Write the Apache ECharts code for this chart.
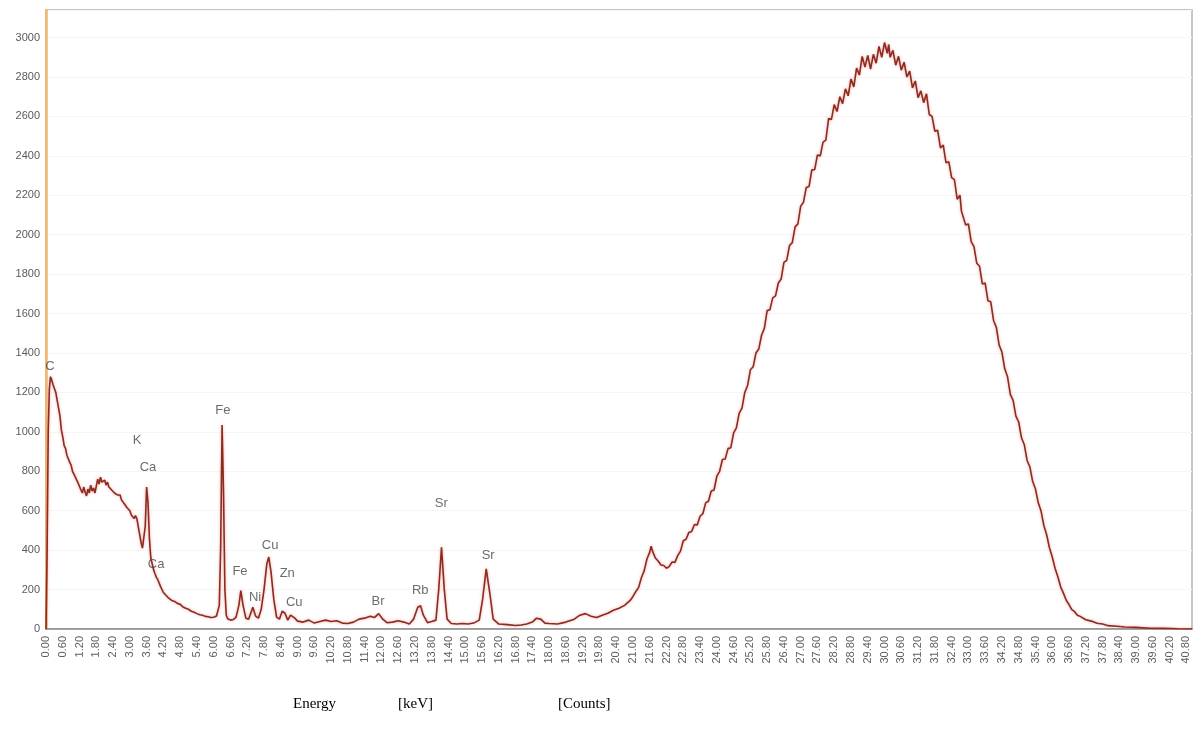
<!DOCTYPE html>
<html>
<head>
<meta charset="utf-8">
<script src="https://cdn.jsdelivr.net/npm/echarts@6/dist/echarts.min.js"></script>
<style>
html,body{margin:0;padding:0;background:#fff;}
#chart{width:1200px;height:747px;}
</style>
</head>
<body>
<div id="chart"></div>
<script>
// Energy [keV] / Counts pairs
const lowRegion = [
[0,0],[0.04,400],[0.08,1000],[0.12,1220],[0.16,1280],[0.2,1265],[0.25,1240],[0.3,1250],[0.35,1200],[0.4,1160],
[0.45,1120],[0.5,1080],[0.55,1010],[0.6,975],[0.65,930],[0.7,915],[0.75,880],[0.8,890],[0.85,845],[0.9,830],
[0.95,800],[1.0,805],[1.05,770],[1.1,760],[1.15,740],[1.2,745],[1.25,705],[1.3,690],[1.35,720],[1.4,695],
[1.45,675],[1.5,710],[1.55,690],[1.6,730],[1.65,700],[1.7,715],[1.75,690],[1.8,725],[1.85,760],[1.9,735],
[1.95,770],[2.0,745],[2.05,740],[2.1,755],[2.15,730],[2.2,745],[2.25,720],[2.3,730],[2.35,705],[2.4,715],
[2.45,690],[2.5,700],[2.55,680],[2.6,670],[2.65,680],[2.7,655],[2.75,650],[2.8,635],[2.85,640],[2.9,615],
[2.95,610],[3.0,600],[3.05,580],[3.1,585],[3.15,560],[3.2,575],[3.25,560],[3.3,520],[3.35,480],[3.4,440],
[3.45,410],[3.5,420],[3.55,520],[3.6,720],[3.65,640],[3.7,460],[3.75,360],[3.8,330],[3.85,300],[3.9,280],
[3.95,262],[4.0,250],[4.1,215],[4.2,185],[4.3,170],[4.4,155],[4.5,145],[4.6,140],[4.7,130],[4.8,125],
[4.9,112],[5.0,105],[5.1,100],[5.2,90],[5.3,85],[5.4,78],[5.5,72],[5.6,70],[5.7,64],[5.8,62],[5.9,58],[6.0,60]
];
const midRegion = [
[6.1,66],[6.2,120],[6.25,420],[6.3,1035],[6.35,700],[6.4,200],[6.45,70],[6.5,52],[6.6,45],[6.7,48],
[6.8,60],[6.9,120],[6.97,195],[7.05,120],[7.15,55],[7.25,50],[7.3,70],[7.4,110],[7.5,65],[7.6,55],
[7.7,100],[7.8,200],[7.9,330],[7.97,365],[8.05,290],[8.15,150],[8.25,60],[8.35,50],[8.45,90],[8.55,80],
[8.65,45],[8.75,70],[8.8,78],[8.9,55],[9.0,40],[9.2,35],[9.4,45],[9.6,30],[9.8,38],[10.0,45],
[10.2,38],[10.4,42],[10.6,30],[10.8,28],[11.0,35],[11.2,50],[11.4,55],[11.6,65],[11.75,58],[11.9,78],
[12.05,50],[12.2,32],[12.4,35],[12.6,42],[12.8,35],[13.0,25],[13.15,50],[13.3,110],[13.4,118],[13.5,70],
[13.65,32],[13.8,38],[13.95,45],[14.05,200],[14.15,415],[14.25,200],[14.35,50],[14.5,28],[14.7,25],[14.9,28],
[15.1,25],[15.3,30],[15.5,45],[15.62,150],[15.75,305],[15.88,180],[16.0,50],[16.2,25],[16.5,22],[16.8,18],
[17.0,20],[17.2,25],[17.4,35],[17.55,55],[17.7,50],[17.85,30],[18.0,28],[18.3,25],[18.6,35],[18.9,50],
[19.1,70],[19.3,78],[19.5,65],[19.7,58],[19.9,70],[20.1,80],[20.3,95],[20.5,105],[20.7,120],[20.9,145]
];
const humpRegion = [
[21.0,165],[21.1,190],[21.2,210],[21.3,260],[21.4,295],[21.5,355],[21.6,390],[21.65,420],[21.7,395],[21.8,360],
[21.9,345],[22.0,325],[22.1,322],[22.2,308],[22.3,318],[22.4,340],[22.5,338],[22.6,372],[22.7,395],[22.8,448],
[22.9,455],[23.0,490],[23.1,495],[23.2,530],[23.3,528],[23.4,572],[23.5,585],[23.6,640],[23.7,648],[23.8,700],
[23.9,705],[24.0,775],[24.1,800],[24.2,860],[24.3,862],[24.4,915],[24.5,920],[24.6,995],[24.7,1020],[24.8,1095],
[24.9,1120],[25.0,1200],[25.1,1235],[25.2,1315],[25.3,1330],[25.4,1400],[25.5,1420],[25.6,1490],[25.7,1525],[25.8,1615],
[25.9,1620],[26.0,1680],[26.1,1690],[26.2,1755],[26.3,1775],[26.4,1860],[26.5,1870],[26.6,1945],[26.7,1960],[26.8,2040],
[26.9,2055],[27.0,2145],[27.1,2165],[27.2,2240],[27.3,2245],[27.4,2330],[27.5,2330],[27.6,2405],[27.7,2400],[27.8,2470],
[27.9,2480],[28.0,2590],[28.1,2585],[28.2,2660],[28.3,2625],[28.4,2700],[28.5,2665],[28.6,2740],[28.7,2705],[28.8,2790],
[28.9,2750],[29.0,2845],[29.1,2810],[29.2,2905],[29.3,2850],[29.4,2910],[29.5,2840],[29.6,2915],[29.7,2870],[29.8,2955],
[29.9,2900],[30.0,2975],[30.1,2920],[30.15,2965],[30.2,2900],[30.3,2935],[30.4,2860],[30.5,2905],[30.6,2835],[30.7,2875],
[30.8,2800],[30.9,2830],[31.0,2745],[31.1,2780],[31.2,2695],[31.3,2730],[31.4,2670],[31.5,2715],[31.6,2610],[31.7,2600],
[31.8,2525],[31.9,2530],[32.0,2440],[32.1,2455],[32.2,2365],[32.3,2370],[32.4,2290],[32.5,2280],[32.6,2180],[32.7,2200],
[32.75,2120],[32.8,2130],[32.9,2050],[33.0,2055],[33.1,1965],[33.2,1940],[33.3,1855],[33.4,1840],[33.5,1750],[33.6,1755],
[33.7,1665],[33.8,1660],[33.9,1565],[34.0,1530],[34.1,1440],[34.2,1405],[34.3,1320],[34.4,1280],[34.5,1190],[34.6,1160],
[34.7,1080],[34.8,1050],[34.9,970],[35.0,935],[35.1,855],[35.2,822],[35.3,748],[35.4,710],[35.5,640],[35.6,598],
[35.7,525],[35.8,478],[35.9,412],[36.0,365],[36.1,308],[36.2,265],[36.3,214],[36.4,182],[36.5,146],[36.6,124],
[36.7,98],[36.8,88],[36.9,70],[37.0,64],[37.2,47],[37.4,40],[37.6,29],[37.8,25],[38.0,17],[38.3,14],
[38.6,10],[39.0,8],[39.5,4],[40.0,3],[40.5,1],[41.0,0]
];
// peak labels: element name, energy, count position of the label
const peakNames  = ['C','K','Ca','Ca','Fe','Fe','Ni','Cu','Zn','Cu','Br','Rb','Sr','Sr'];
const peakEnergy = [0.14,3.26,3.65,3.94,6.33,6.94,7.48,8.02,8.63,8.88,11.88,13.39,14.14,15.82];
const peakLabelY = [1332,956,819,330,1108,290,158,422,280,137,142,198,636,371];

const xMin = 0, xMax = 41, xStep = 0.6;
const yMin = 0, yMax = 3140, yStep = 200;

const spectrum = lowRegion.concat(midRegion, humpRegion);
const labelData = peakNames.map((n, i) => ({ name: n, value: [peakEnergy[i], peakLabelY[i]] }));

const chart = echarts.init(document.getElementById('chart'), null, { renderer: 'canvas' });
const narrow = "'Liberation Sans Narrow', 'Liberation Sans', Arial, sans-serif";
chart.setOption({
  animation: false,
  backgroundColor: '#ffffff',
  grid: { left: 46, right: 8, top: 10, bottom: 118, show: true, borderColor: '#b4b4b4', borderWidth: 1.5, backgroundColor: '#ffffff' },
  xAxis: {
    type: 'value', min: xMin, max: xMax, interval: xStep,
    axisLine: { show: true, onZero: false, lineStyle: { color: '#8a8a8a', width: 1.5 } },
    axisTick: { show: false },
    splitLine: { show: false },
    axisLabel: {
      rotate: 90, margin: 7, color: '#5e5e5e', fontSize: 11, fontFamily: narrow,
      showMaxLabel: false,
      formatter: v => v.toFixed(2)
    }
  },
  yAxis: {
    type: 'value', min: yMin, max: yMax, interval: yStep,
    axisLine: { show: true, lineStyle: { color: '#f2b66a', width: 2.5 } },
    axisTick: { show: false },
    splitLine: { show: true, lineStyle: { color: '#f5f5f5', width: 1 } },
    axisLabel: { margin: 6, color: '#5a5a5a', fontSize: 11, fontFamily: narrow, showMaxLabel: false,
      formatter: v => String(v) }
  },
  series: [
    {
      type: 'line', data: spectrum, showSymbol: false, symbol: 'none', smooth: false,
      lineStyle: { color: '#8e2a20', width: 1.6, shadowColor: 'rgba(225,110,100,0.6)', shadowBlur: 3 },
      z: 3
    },
    {
      type: 'scatter', data: labelData, symbolSize: 0, silent: true, z: 4,
      label: {
        show: true, position: 'inside', formatter: p => p.name,
        color: '#474747', fontSize: 13, fontFamily: narrow
      }
    }
  ],
  graphic: [
    { type: 'text', left: 293, top: 697, style: { text: 'Energy', font: "15px 'Liberation Serif', 'Times New Roman', serif", fill: '#000' } },
    { type: 'text', left: 398, top: 697, style: { text: '[keV]', font: "15px 'Liberation Serif', 'Times New Roman', serif", fill: '#000' } },
    { type: 'text', left: 558, top: 697, style: { text: '[Counts]', font: "15px 'Liberation Serif', 'Times New Roman', serif", fill: '#000' } }
  ]
});
</script>
</body>
</html>
